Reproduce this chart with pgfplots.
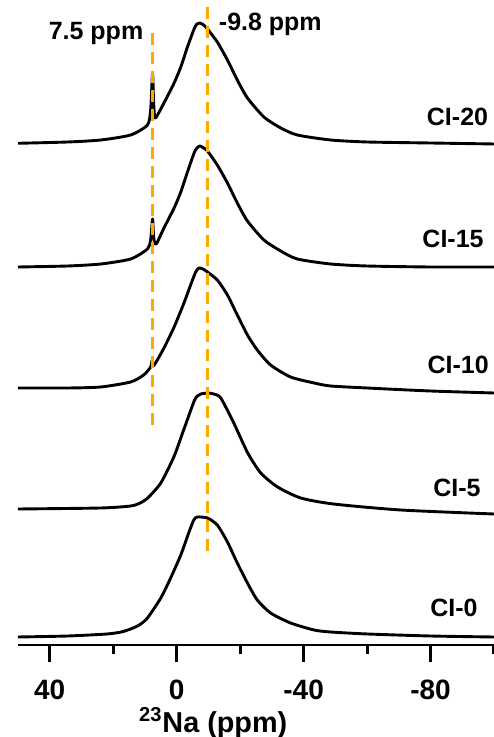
\documentclass[border=0pt]{standalone}
\usepackage{pgfplots}
\pgfplotsset{compat=1.18}
\usepackage{fontspec}
\setmainfont{Liberation Sans}
\definecolor{dashorange}{RGB}{255,168,0}
\newcommand{\lblfont}{\bfseries\fontsize{12.5bp}{13bp}\selectfont}
\pgfplotsset{spec/.style={black, line width=1.45bp, smooth, tension=0.4, mark=none, line join=round}}
\begin{document}
\begin{tikzpicture}
\useasboundingbox (-9bp,-46bp) rectangle (238bp,322.5bp);
\begin{axis}[
  at={(0,0)}, anchor=south west,
  scale only axis, width=238bp, height=322.5bp,
  xmin=-100, xmax=50, ymin=0, ymax=645,
  x dir=reverse,
  axis x line*=bottom, hide y axis,
  x axis line style={line width=1.4bp},
  xtick={40,0,-40,-80},
  minor xtick={20,-20,-60,-100},
  tick align=outside,
  major tick length=8.5bp, minor tick length=4.5bp,
  every tick/.append style={black, line width=1.5bp},
  /pgf/number format/assume math mode=true,
  xticklabel style={font=\bfseries\fontsize{14bp}{14bp}\selectfont, anchor=base, yshift=-18.5bp},
  xlabel={\textsuperscript{23}Na (ppm)},
  xlabel style={font=\bfseries\fontsize{14.4bp}{15bp}\selectfont, at={(axis description cs:0.41,0)}, anchor=base, yshift=-43.5bp},
  clip=false,
]
% CI-20
\addplot[spec] coordinates {(50,501.7) (34.3,503) (23.9,505) (14.5,510) (9.2,520) (8.2,535) (7.6,572) (7.3,545) (7.0,530) (6.6,527) (4.0,542) (0.8,562) (-1.3,578) (-3.4,598) (-5.5,616) (-6.4,621) (-7.3,622) (-8.5,620) (-9.7,616) (-12.8,603) (-16.0,585) (-19.1,565) (-22.3,547) (-27.5,528) (-32.8,517) (-38.0,510) (-48.5,505) (-60,503) (-80,502) (-100,501)};
% CI-15
\addplot[spec] coordinates {(50,378) (34.3,379) (23.9,381) (14.5,386) (9.2,396) (8.2,405) (7.6,426) (7.3,410) (7.0,403) (6.4,401) (4.0,417) (0.8,437) (-1.3,453) (-3.4,473) (-5.5,492) (-6.4,497) (-7.3,499) (-8.5,497) (-9.7,494) (-12.8,480) (-16.0,462) (-19.1,442) (-22.3,424) (-27.5,405) (-32.8,394) (-38.0,386) (-48.5,381) (-60,379) (-80,378) (-100,378)};
% CI-10
\addplot[spec] coordinates {(50,257) (34.3,257) (23.9,258) (14.5,263) (10.4,270) (8.2,278) (7.7,285) (7.3,279) (4.0,297) (0.8,318) (-2.3,342) (-4.4,360) (-6.0,373) (-7.0,377) (-8.3,376) (-9.7,373) (-12.8,365) (-16.0,350) (-19.1,330) (-22.3,310) (-25.4,295) (-29.6,280) (-35.9,268) (-43.3,262) (-48.5,259) (-60,257) (-80,254) (-100,252)};
% CI-5
\addplot[spec] coordinates {(50,136) (23.9,137) (14.5,139) (11.5,142) (9.1,147) (5.0,162) (0.9,188) (-2.2,215) (-5.4,243) (-6.5,249) (-7.6,251) (-9.8,252) (-11.7,251) (-13.9,247) (-18.0,222) (-22.4,192) (-26.5,172) (-31.8,158) (-39.1,147) (-49.4,141) (-70.6,135) (-100,131)};
% CI-0
\addplot[spec] coordinates {(50,8) (34.3,9) (22.0,11) (17.5,13) (14.5,16) (11.8,20) (9.2,27) (5.0,47) (1.9,67) (-1.3,90) (-3.9,113) (-5.4,125) (-6.5,128) (-9.7,127) (-12.8,120) (-16.0,103) (-19.1,82) (-22.3,62) (-25.4,45) (-29.6,32) (-35.9,22) (-43.3,15) (-48.5,13) (-60.2,11) (-80,9) (-100,8)};
% reference lines
\addplot[dashorange, line width=1.5bp, dash pattern=on 6bp off 3.5bp, mark=none] coordinates {(7.5,612) (7.5,213)};
\addplot[dashorange, line width=1.5bp, dash pattern=on 6bp off 3.5bp, mark=none] coordinates {(-9.8,638) (-9.8,92)};
\node[anchor=east, inner sep=0pt, font=\lblfont] at (axis cs:10.4,611) {7.5 ppm};
\node[anchor=west, inner sep=0pt, font=\lblfont] at (axis cs:-13.2,621) {-9.8 ppm};
\node[font=\lblfont] at (axis cs:-88.5,528) {CI-20};
\node[font=\lblfont] at (axis cs:-87.1,406) {CI-15};
\node[font=\lblfont] at (axis cs:-88.7,280) {CI-10};
\node[font=\lblfont] at (axis cs:-88.3,157) {CI-5};
\node[font=\lblfont] at (axis cs:-87.4,37) {CI-0};
\end{axis}
\end{tikzpicture}
\end{document}
